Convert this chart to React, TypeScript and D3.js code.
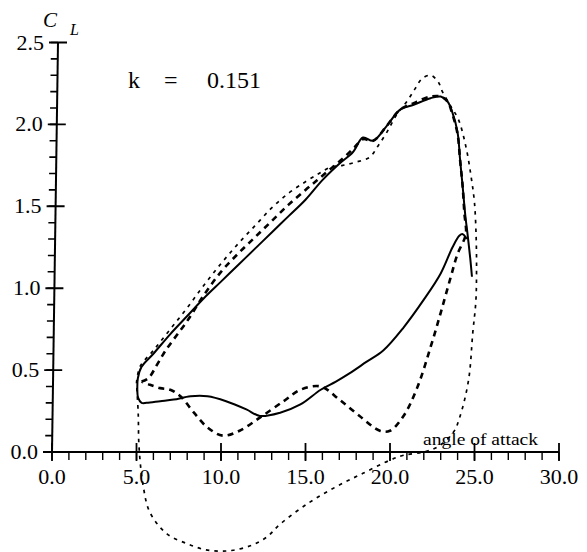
import React from 'react';
import * as d3 from 'd3';

type P = [number, number];

const xTickValues = [0, 5, 10, 15, 20, 25, 30];
const xTickLabels = ['0.0', '5.0', '10.0', '15.0', '20.0', '25.0', '30.0'];
const yTickValues = [0, 0.5, 1.0, 1.5, 2.0, 2.5];
const yTickLabels = ['0.0', '0.5', '1.0', '1.5', '2.0', '2.5'];

// Solid curve: upstroke branch
const solidUpper: P[] = [
  [5.05, 0.38], [5.08, 0.45], [5.3, 0.52], [6.0, 0.60], [7.0, 0.72], [8.0, 0.83],
  [9.0, 0.94], [10.0, 1.04], [11.0, 1.14], [12.0, 1.24], [13.0, 1.34], [14.0, 1.44],
  [15.0, 1.54], [16.0, 1.66], [17.0, 1.76], [17.8, 1.83], [18.4, 1.92], [19.0, 1.90],
  [19.8, 1.99], [20.6, 2.09], [21.4, 2.12], [22.4, 2.16], [23.0, 2.17], [23.4, 2.14],
  [23.7, 2.07], [24.0, 1.95], [24.15, 1.78], [24.3, 1.62], [24.45, 1.45], [24.6, 1.32],
  [24.75, 1.18], [24.85, 1.07],
];

// Solid curve: downstroke branch
const solidLower: P[] = [
  [24.55, 1.30], [24.3, 1.33], [24.1, 1.32], [23.7, 1.25], [23.0, 1.09], [22.0, 0.93],
  [20.8, 0.76], [19.6, 0.62], [18.6, 0.55], [17.6, 0.48], [16.8, 0.43], [15.9, 0.38],
  [14.7, 0.29], [13.5, 0.24], [12.3, 0.22], [11.5, 0.26], [10.3, 0.31], [9.2, 0.34],
  [8.2, 0.34], [7.2, 0.32], [6.4, 0.31], [5.6, 0.30], [5.3, 0.30], [5.1, 0.33], [5.05, 0.38],
];

// Coarse dashed loop
const dashedLoop: P[] = [
  [5.3, 0.43], [5.7, 0.45], [6.2, 0.53], [6.6, 0.60], [7.0, 0.66], [8.0, 0.80],
  [9.0, 0.96], [10.0, 1.10], [11.0, 1.21], [12.0, 1.31], [13.0, 1.41], [14.0, 1.51],
  [15.0, 1.60], [15.7, 1.66], [16.5, 1.73], [17.3, 1.80], [17.9, 1.86], [18.4, 1.91],
  [19.0, 1.90], [19.8, 1.99], [20.6, 2.09], [21.4, 2.13], [22.4, 2.17], [23.0, 2.17],
  [23.4, 2.14], [23.7, 2.06], [24.0, 1.94], [24.15, 1.78], [24.3, 1.62], [24.4, 1.46],
  [24.5, 1.34], [24.4, 1.30], [24.0, 1.21], [23.6, 1.07], [23.0, 0.85], [22.4, 0.64],
  [21.6, 0.39], [20.8, 0.22], [20.0, 0.13], [19.4, 0.13], [18.2, 0.22], [17.0, 0.32],
  [15.9, 0.40], [14.7, 0.38], [13.7, 0.31], [12.3, 0.21], [11.1, 0.13], [10.1, 0.10],
  [9.2, 0.15], [8.4, 0.24], [7.6, 0.34], [7.0, 0.38], [6.4, 0.39], [5.8, 0.41], [5.3, 0.43],
];

// Fine dotted loop
const dottedLoop: P[] = [
  [5.0, 0.42], [5.2, 0.52], [6.0, 0.62], [7.0, 0.75], [8.0, 0.88], [9.0, 1.02],
  [10.0, 1.15], [11.0, 1.27], [12.0, 1.38], [13.0, 1.49], [14.0, 1.58], [15.0, 1.65],
  [15.8, 1.70], [16.5, 1.74], [17.2, 1.75], [18.0, 1.77], [18.8, 1.80], [19.3, 1.87],
  [19.8, 1.95], [20.4, 2.06], [21.0, 2.14], [21.5, 2.22], [21.9, 2.28], [22.4, 2.30],
  [22.85, 2.26], [23.1, 2.20], [23.6, 2.11], [24.05, 2.03], [24.5, 1.86], [24.8, 1.68],
  [25.0, 1.52], [25.1, 1.30], [25.12, 1.10], [25.08, 0.92], [24.9, 0.73], [24.65, 0.44],
  [24.15, 0.22], [23.75, 0.12], [22.8, 0.03], [22.0, 0.0], [20.8, -0.02], [20.0, -0.05],
  [18.4, -0.13], [16.85, -0.21], [15.2, -0.31], [13.5, -0.44], [12.7, -0.52], [11.8, -0.57],
  [10.7, -0.60], [9.9, -0.605], [9.0, -0.595], [8.0, -0.56], [6.8, -0.50], [5.8, -0.37],
  [5.4, -0.21], [5.15, 0.03], [5.1, 0.24], [5.0, 0.42],
];

const FONT = 'Liberation Serif, DejaVu Serif, Times New Roman, serif';

export default function App() {
  const W = 587;
  const H = 552;
  const x = d3.scaleLinear().domain([0, 30]).range([52, 559]);
  const y = d3.scaleLinear().domain([0, 2.5]).range([452, 42.5]);
  const line = d3
    .line<P>()
    .x((d) => x(d[0]))
    .y((d) => y(d[1]))
    .curve(d3.curveCatmullRom.alpha(0.5));

  // slight lean of the scanned y axis
  const yAxisX = (v: number) => x(0) + (v / 2.5) * 6;
  const y0 = y(0);

  const xMinor = d3.range(0, 31, 1);
  const yMinor = d3.range(0, 26, 1).map((i) => i / 10);
  const txt = { fontFamily: FONT, fill: '#000' } as React.CSSProperties;

  const yMinorPath = yMinor
    .map((v) => `M${(yAxisX(v) - 7).toFixed(2)},${y(v).toFixed(2)}L${yAxisX(v).toFixed(2)},${y(v).toFixed(2)}`)
    .join('');
  const yMajorPath = yTickValues
    .map((v) => `M${(yAxisX(v) - 9).toFixed(2)},${y(v).toFixed(2)}L${(yAxisX(v) + 9).toFixed(2)},${y(v).toFixed(2)}`)
    .join('');
  const yAxisPath = `M${yAxisX(0)},${y(0)}L${yAxisX(2.5)},${y(2.5)}`;

  return (
    <svg
      width={W}
      height={H}
      viewBox={`0 0 ${W} ${H}`}
      style={{ position: 'absolute', left: 0, top: 0, background: '#fff' }}
    >
      <rect x={0} y={0} width={W} height={H} fill="#fff" />

      {/* x axis */}
      <line x1={x(0)} x2={x(30)} y1={y0} y2={y0} stroke="#000" strokeWidth={2} />
      {xMinor.map((v) => (
        <line key={'xm' + v} x1={x(v)} x2={x(v)} y1={y0} y2={y0 + 8} stroke="#000" strokeWidth={1.4} />
      ))}
      {xTickValues.map((v) => (
        <line key={'xM' + v} x1={x(v)} x2={x(v)} y1={y0 - 9} y2={y0 + 9} stroke="#000" strokeWidth={1.8} />
      ))}
      {xTickValues.map((v, i) => (
        <text key={'xl' + v} x={x(v)} y={y0 + 32} textAnchor="middle" fontSize={22} style={txt}>
          {xTickLabels[i]}
        </text>
      ))}

      {/* y axis */}
      <path d={yAxisPath} stroke="#000" strokeWidth={2} fill="none" />
      <path d={yMinorPath} stroke="#000" strokeWidth={1.6} fill="none" />
      <path d={yMajorPath} stroke="#000" strokeWidth={1.9} fill="none" />
      {yTickValues.map((v, i) => (
        <text key={'yl' + v} x={yAxisX(v) - 14} y={y(v)} dy="0.32em" textAnchor="end" fontSize={22} style={txt}>
          {yTickLabels[i]}
        </text>
      ))}

      {/* axis titles */}
      <text x={43} y={27} fontSize={21} fontStyle="italic" style={txt}>C</text>
      <text x={70} y={35} fontSize={16} fontStyle="italic" style={txt}>L</text>
      <text x={423} y={445} fontSize={16} style={txt} textLength={115} lengthAdjust="spacingAndGlyphs">
        angle of attack
      </text>

      {/* annotation */}
      <text x={128} y={88} fontSize={24} style={txt}>k</text>
      <text x={164} y={88} fontSize={24} style={txt}>=</text>
      <text x={207} y={88} fontSize={24} style={txt}>0.151</text>

      {/* curves */}
      <path d={line(dottedLoop) || ''} fill="none" stroke="#000" strokeWidth={1.7} strokeDasharray="3.5 5" />
      <path d={line(dashedLoop) || ''} fill="none" stroke="#000" strokeWidth={2.6} strokeDasharray="6 5" />
      <path d={line(solidUpper) || ''} fill="none" stroke="#000" strokeWidth={2} />
      <path d={line(solidLower) || ''} fill="none" stroke="#000" strokeWidth={2} />
    </svg>
  );
}
